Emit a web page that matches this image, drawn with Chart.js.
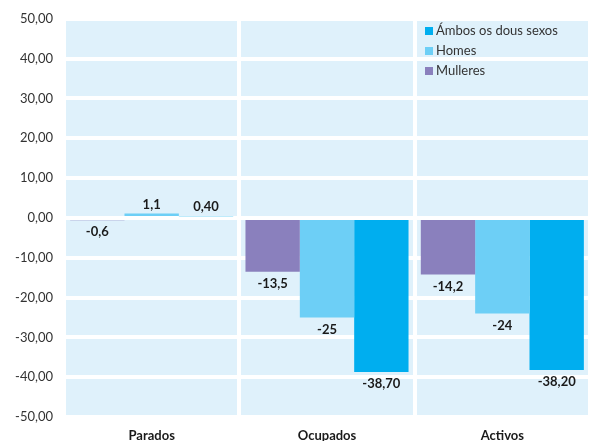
<!DOCTYPE html>
<html>
<head>
<meta charset="utf-8">
<script src="https://cdn.jsdelivr.net/npm/chart.js@4"></script>
<style>
  html, body { margin: 0; padding: 0; background: #fff; }
  #wrap { width: 596px; height: 441px; }
</style>
</head>
<body>
<div id="wrap"><canvas id="chart" width="596" height="441"></canvas></div>
<script>
const categories = ['Parados', 'Ocupados', 'Activos'];
const seriesNames = ['Mulleres', 'Homes', 'Ámbos os dous sexos'];
const mulleres = [-0.6, -13.5, -14.2];
const homes = [1.1, -25, -24];
const ambos = [0.40, -38.70, -38.20];
// labels as printed on the original (mixed decimals)
const mulleresLabels = ['-0,6', '-13,5', '-14,2'];
const homesLabels = ['1,1', '-25', '-24'];
const ambosLabels = ['0,40', '-38,70', '-38,20'];
const yTicks = [-50, -40, -30, -20, -10, 0, 10, 20, 30, 40, 50];

const colors = ['#8a80bd', '#6dcff6', '#00aeef'];
const FONT = 'Lato, "DejaVu Sans", sans-serif';

// light blue plot background
const plotBackground = {
    id: 'plotBackground',
    beforeDraw(chart) {
        const { ctx, chartArea: a } = chart;
        ctx.save();
        ctx.fillStyle = '#dff1fb';
        ctx.fillRect(a.left, a.top, a.right - a.left, a.bottom - a.top);
        ctx.restore();
    }
};

// value labels at the end of each bar
const valueLabels = {
    id: 'valueLabels',
    afterDatasetsDraw(chart) {
        const ctx = chart.ctx;
        ctx.save();
        ctx.font = 'bold 13px ' + FONT;
        ctx.fillStyle = '#1a1a1a';
        ctx.textAlign = 'center';
        ctx.textBaseline = 'middle';
        chart.data.datasets.forEach((ds, i) => {
            chart.getDatasetMeta(i).data.forEach((bar, j) => {
                const v = ds.data[j];
                const y = v < 0 ? bar.y + 12 : bar.y - 9;
                ctx.fillText(ds.valueLabels[j], bar.x, y);
            });
        });
        ctx.restore();
    }
};

// legend drawn inside the plot, top right, reversed order
const insideLegend = {
    id: 'insideLegend',
    afterDraw(chart) {
        const ctx = chart.ctx;
        const x = 425;
        let y = 31;
        ctx.save();
        ctx.font = '13px ' + FONT;
        ctx.textBaseline = 'middle';
        chart.data.datasets.slice().reverse().forEach(ds => {
            ctx.fillStyle = ds.backgroundColor;
            ctx.fillRect(x, y - 4, 8, 8);
            ctx.fillStyle = '#333';
            ctx.fillText(ds.label, x + 11, y);
            y += 20;
        });
        ctx.restore();
    }
};

new Chart(document.getElementById('chart'), {
    type: 'bar',
    data: {
        labels: categories,
        datasets: [
            { label: seriesNames[0], data: mulleres, valueLabels: mulleresLabels, backgroundColor: colors[0] },
            { label: seriesNames[1], data: homes, valueLabels: homesLabels, backgroundColor: colors[1] },
            { label: seriesNames[2], data: ambos, valueLabels: ambosLabels, backgroundColor: colors[2] }
        ]
    },
    options: {
        responsive: false,
        animation: false,
        layout: { padding: { top: 16, right: 6, left: 0, bottom: 0 } },
        datasets: { bar: { barPercentage: 1, categoryPercentage: 0.93 } },
        plugins: {
            legend: { display: false },
            tooltip: { enabled: false }
        },
        scales: {
            x: {
                afterFit: axis => { axis.height = 24; },
                grid: { color: '#ffffff', lineWidth: 4, drawTicks: false, offset: true },
                border: { display: false },
                ticks: { color: '#1a1a1a', padding: 11, font: { family: FONT, size: 13, weight: 'bold' } }
            },
            y: {
                min: -50,
                max: 50,
                afterBuildTicks: axis => { axis.ticks = yTicks.map(v => ({ value: v })); },
                afterFit: axis => { axis.width = 64; },
                grid: { color: '#ffffff', lineWidth: 4, drawTicks: false },
                border: { display: false },
                ticks: {
                    color: '#333',
                    padding: 11,
                    font: { family: FONT, size: 13 },
                    callback: v => v.toFixed(2).replace('.', ',')
                }
            }
        }
    },
    plugins: [plotBackground, valueLabels, insideLegend]
});
</script>
</body>
</html>
